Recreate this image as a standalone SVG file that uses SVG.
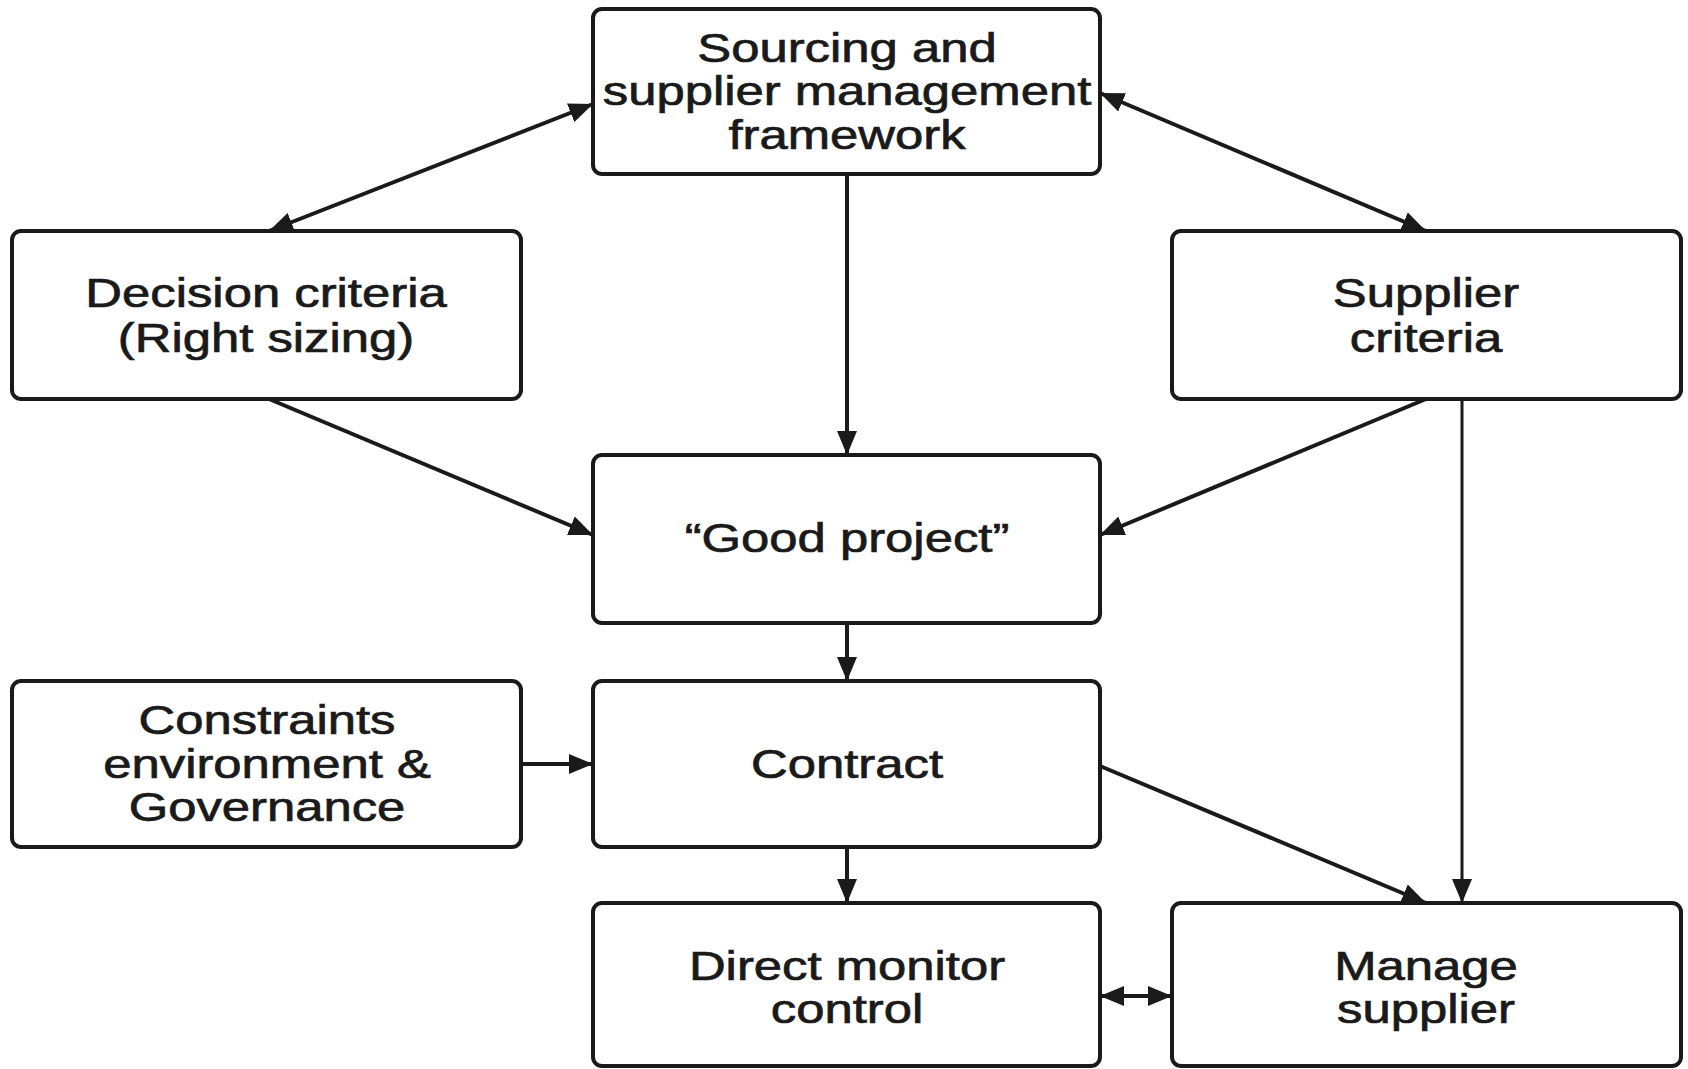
<svg xmlns="http://www.w3.org/2000/svg" width="1688" height="1069" viewBox="0 0 1688 1069">
<style>
.box{fill:#fff;stroke:#1a1a1a;stroke-width:4}
.lbl{font-family:"Liberation Sans",Arial,sans-serif;font-size:40px;fill:#1a1a1a;stroke:#1a1a1a;stroke-width:0.7;text-anchor:middle}
.con{stroke:#1a1a1a;stroke-width:4;fill:none}
.thin{stroke-width:3}
</style>
<defs>
<marker id="ah" markerUnits="userSpaceOnUse" markerWidth="26" markerHeight="20" refX="24" refY="10" orient="auto-start-reverse" viewBox="0 0 26 20">
<path d="M0,0 L24,10 L0,20 Z" fill="#1a1a1a"/>
</marker>
</defs>
<rect width="1688" height="1069" fill="#fff"/>
<g id="connectors">
<line class="con" x1="593" y1="104" x2="269" y2="231" marker-start="url(#ah)" marker-end="url(#ah)"/>
<line class="con" x1="1100" y1="93" x2="1426" y2="231" marker-start="url(#ah)" marker-end="url(#ah)"/>
<line class="con" x1="847" y1="174" x2="847" y2="455" marker-end="url(#ah)"/>
<line class="con" x1="269" y1="399" x2="593" y2="535" marker-end="url(#ah)"/>
<line class="con" x1="1426" y1="399" x2="1100" y2="535" marker-end="url(#ah)"/>
<line class="con thin" x1="1462" y1="399" x2="1462" y2="903" marker-end="url(#ah)"/>
<line class="con" x1="847" y1="623" x2="847" y2="681" marker-end="url(#ah)"/>
<line class="con" x1="521" y1="764" x2="593" y2="764" marker-end="url(#ah)"/>
<line class="con" x1="1100" y1="766" x2="1426" y2="903" marker-end="url(#ah)"/>
<line class="con" x1="847" y1="847" x2="847" y2="903" marker-end="url(#ah)"/>
<line class="con" x1="1100" y1="996" x2="1172" y2="996" marker-start="url(#ah)" marker-end="url(#ah)"/>
</g>
<g id="node-framework">
<rect class="box" x="593" y="9" width="507" height="165" rx="9"/>
<g transform="translate(847,0) scale(1.27,1)">
<text class="lbl" x="0" y="62">Sourcing and</text>
<text class="lbl" x="0" y="105">supplier management</text>
<text class="lbl" x="0" y="149">framework</text>
</g>
</g>
<g id="node-decision">
<rect class="box" x="12" y="231" width="509" height="168" rx="9"/>
<g transform="translate(266,0) scale(1.27,1)">
<text class="lbl" x="0" y="307">Decision criteria</text>
<text class="lbl" x="0" y="352">(Right sizing)</text>
</g>
</g>
<g id="node-supplier-criteria">
<rect class="box" x="1172" y="231" width="509" height="168" rx="9"/>
<g transform="translate(1426,0) scale(1.27,1)">
<text class="lbl" x="0" y="307">Supplier</text>
<text class="lbl" x="0" y="352">criteria</text>
</g>
</g>
<g id="node-good-project">
<rect class="box" x="593" y="455" width="507" height="168" rx="9"/>
<g transform="translate(847,0) scale(1.27,1)">
<text class="lbl" x="0" y="552">“Good project”</text>
</g>
</g>
<g id="node-constraints">
<rect class="box" x="12" y="681" width="509" height="166" rx="9"/>
<g transform="translate(267,0) scale(1.27,1)">
<text class="lbl" x="0" y="734">Constraints</text>
<text class="lbl" x="0" y="778">environment &amp;</text>
<text class="lbl" x="0" y="821">Governance</text>
</g>
</g>
<g id="node-contract">
<rect class="box" x="593" y="681" width="507" height="166" rx="9"/>
<g transform="translate(847,0) scale(1.27,1)">
<text class="lbl" x="0" y="778">Contract</text>
</g>
</g>
<g id="node-direct-monitor">
<rect class="box" x="593" y="903" width="507" height="163" rx="9"/>
<g transform="translate(847,0) scale(1.27,1)">
<text class="lbl" x="0" y="980">Direct monitor</text>
<text class="lbl" x="0" y="1023">control</text>
</g>
</g>
<g id="node-manage-supplier">
<rect class="box" x="1172" y="903" width="509" height="163" rx="9"/>
<g transform="translate(1426,0) scale(1.27,1)">
<text class="lbl" x="0" y="980">Manage</text>
<text class="lbl" x="0" y="1023">supplier</text>
</g>
</g>
</svg>
